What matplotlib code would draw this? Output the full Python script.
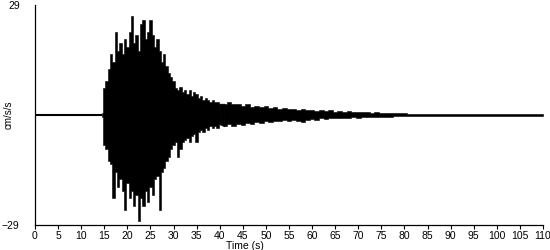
import numpy as np
import matplotlib
matplotlib.use("Agg")
import matplotlib.pyplot as plt

# quiet part before the P arrival
quiet_t = [0.0, 14.5]
quiet_a = [0.0, 0.0]

# strong motion, peaks read every 0.5 s (14.5 .. 40 s)
t_strong = np.arange(14.5, 40.01, 0.5)
pos_strong = [0.5, 7, 9, 12, 16, 14, 22, 17, 19, 16, 20, 18, 22, 26, 19, 21,
              17, 24, 25, 20, 22, 25, 21, 18, 20, 17, 14, 16, 13, 11, 10, 9,
              7, 6.5, 7.5, 6, 6.5, 5.5, 6.5, 5, 6, 5.5, 4.5, 5, 4, 4.5, 4,
              3.5, 4, 3.5, 3.5, 3]
neg_strong = [-0.5, -8, -9, -12, -13, -22, -15, -19, -17, -20, -25, -18, -22,
              -20, -24, -21, -28, -22, -24, -20, -23, -19, -21, -17, -16, -25,
              -15, -14, -12, -11, -9, -8, -7, -11, -9, -7, -6.5, -6, -7, -5.5,
              -5, -7, -4.5, -4, -4.5, -3.5, -4, -3, -3.5, -3, -3.5, -2.5]

# coda, peaks read every 1 s (41 .. 110 s)
t_coda = np.arange(41, 110.01, 1.0)
pos_coda = [3, 3.5, 2.8, 3, 2.5, 2.8, 2.2, 2.5, 2, 2.3, 1.8, 2, 1.6, 1.8,
            1.5, 1.6, 1.3, 1.5, 1.2, 1.4, 1.1, 1.3, 1.0, 1.2, 0.9, 1.1, 0.8,
            1.0, 0.8, 0.9, 0.7, 0.8, 0.6, 0.7, 0.5, 0.6, 0.5, 0.55, 0.4, 0.5,
            0.35, 0.3, 0.35, 0.3, 0.3, 0.3, 0.35, 0.3, 0.3, 0.3, 0.3, 0.25,
            0.3, 0.25, 0.3, 0.25, 0.25, 0.3, 0.25, 0.25, 0.25, 0.25, 0.25,
            0.25, 0.25, 0.25, 0.25, 0.25, 0.25, 0.25]
neg_coda = [-3, -2.5, -3, -2.3, -2.6, -2, -2.3, -1.8, -2, -1.6, -1.8, -1.5,
            -1.6, -1.4, -1.5, -1.2, -1.7, -1.8, -1.3, -1.1, -1.2, -0.9, -1.0,
            -0.8, -0.9, -0.7, -0.8, -0.7, -0.6, -0.7, -0.6, -0.5, -0.55, -0.45,
            -0.45, -0.4, -0.45, -0.35, -0.35, -0.3, -0.3, -0.3, -0.3, -0.3,
            -0.3, -0.25, -0.3, -0.25, -0.25, -0.3, -0.25, -0.25, -0.25, -0.25,
            -0.25, -0.25, -0.25, -0.25, -0.25, -0.25, -0.25, -0.25, -0.25,
            -0.25, -0.25, -0.25, -0.25, -0.25, -0.25, -0.25]

plt.rcParams['font.family'] = ['Liberation Sans', 'DejaVu Sans']

fig = plt.figure(figsize=(5.5, 2.5), dpi=100)
ax = fig.add_axes([35 / 550, 25 / 250, 508 / 550, 220 / 250])

# baseline trace, then the dense oscillation drawn as its peak envelope
ax.plot(quiet_t, quiet_a, color='black', lw=1.5, solid_capstyle='butt')
ax.fill_between(t_strong, neg_strong, pos_strong, step='mid',
                color='black', lw=0.4)
ax.fill_between(t_coda, neg_coda, pos_coda, step='mid',
                color='black', lw=0.4)
ax.fill_between([t_strong[-1], t_coda[0]], [neg_strong[-1], neg_coda[0]],
                [pos_strong[-1], pos_coda[0]], color='black', lw=0.4)

ax.set_xlim(0, 110)
ax.set_ylim(-29, 29)
ax.set_xticks(np.arange(0, 111, 5))
ax.set_yticks([-29, 29])
ax.tick_params(axis='x', length=3, width=0.8, pad=1.5, labelsize=7.5)
ax.tick_params(axis='y', length=0, pad=11, labelsize=7.5)
for s in ['top', 'right']:
    ax.spines[s].set_visible(False)
for s in ['left', 'bottom']:
    ax.spines[s].set_linewidth(0.9)

ax.set_ylabel("cm/s/s", fontsize=7)
ax.yaxis.set_label_coords(-0.043, 0.5)
ax.set_xlabel("Time (s)", fontsize=7.5)
ax.xaxis.set_label_coords(0.413, -0.095)
ax.xaxis.label.set_va('center')

fig.savefig("out.png", dpi=100)
